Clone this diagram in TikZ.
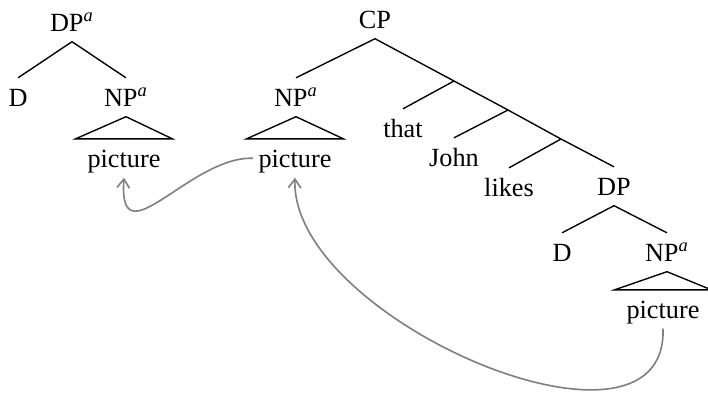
\documentclass[tikz,border=0pt]{standalone}
\usepackage{fontspec}
\setmainfont{Liberation Serif}
\usetikzlibrary{arrows.meta}
\newcommand{\idx}{\textsuperscript{\textit{a}}}
\begin{document}
\begin{tikzpicture}[x=0.4pt, y=-0.4pt, line width=0.55pt, font=\fontsize{10.5}{12}\selectfont,
		tn/.style={anchor=base, inner xsep=0pt, inner ysep=4pt, text height=7pt, text depth=0pt},
		mv/.style={-{Straight Barb[length=3.5pt,width=5pt]}, gray, line width=0.65pt}]
				\useasboundingbox (0,0) rectangle (708,396);
				
				% 1. 左侧 DP 树
				\node[tn] (dpa) at (72,31) {DP\idx};
				\node[tn] (d1) at (18,106) {D};
				\node[tn] (np1) at (126,106) {NP\idx};
				\node[tn] (pic1) at (124,167) {picture};
				\draw (dpa.south) -- (d1.north);
				\draw (dpa.south) -- (np1.north);
				\draw (np1.south) -- ([xshift=-4.5pt]pic1.north west) -- ([xshift=4.5pt]pic1.north east) -- cycle;
				
				% 2. CP 树的左枝
				\node[tn] (cp) at (375,28) {CP};
				\node[tn] (np2) at (296,106) {NP\idx};
				\node[tn] (pic2) at (295,167) {picture};
				\draw (cp.south) -- (np2.north);
				\draw (np2.south) -- ([xshift=-4.5pt]pic2.north west) -- ([xshift=4.5pt]pic2.north east) -- cycle;
				
				% 3. 右枝主干与分支点
				\coordinate (b1) at (454,81);
				\coordinate (b2) at (508,110);
				\coordinate (b3) at (561,139);
				\node[tn] (that) at (403,137) {that};
				\node[tn] (john) at (454,166) {John};
				\node[tn] (likes) at (509,196) {likes};
				\node[tn] (dp2) at (614,195) {DP};
				\draw (cp.south) -- (b1) -- (b2) -- (b3) -- (dp2.north);
				\draw (b1) -- (that.north);
				\draw (b2) -- (john.north);
				\draw (b3) -- (likes.north);
				
				% 4. 底部 DP
				\node[tn] (d2) at (562,261) {D};
				\node[tn] (np3) at (667,261) {NP\idx};
				\node[tn] (pic3) at (663,318) {picture};
				\draw (dp2.south) -- (d2.north);
				\draw (dp2.south) -- (np3.north);
				\draw (np3.south) -- ([xshift=-4.5pt]pic3.north west) -- ([xshift=4.5pt]pic3.north east) -- cycle;
				
				% 5. 移位箭头
				\draw[mv] ([xshift=-2pt]pic2.west) .. controls (190,156) and (118,262) .. (pic1.south);
				\draw[mv] (pic3.south) .. controls (668,480) and (290,320) .. (pic2.south);
			\end{tikzpicture}
\end{document}
